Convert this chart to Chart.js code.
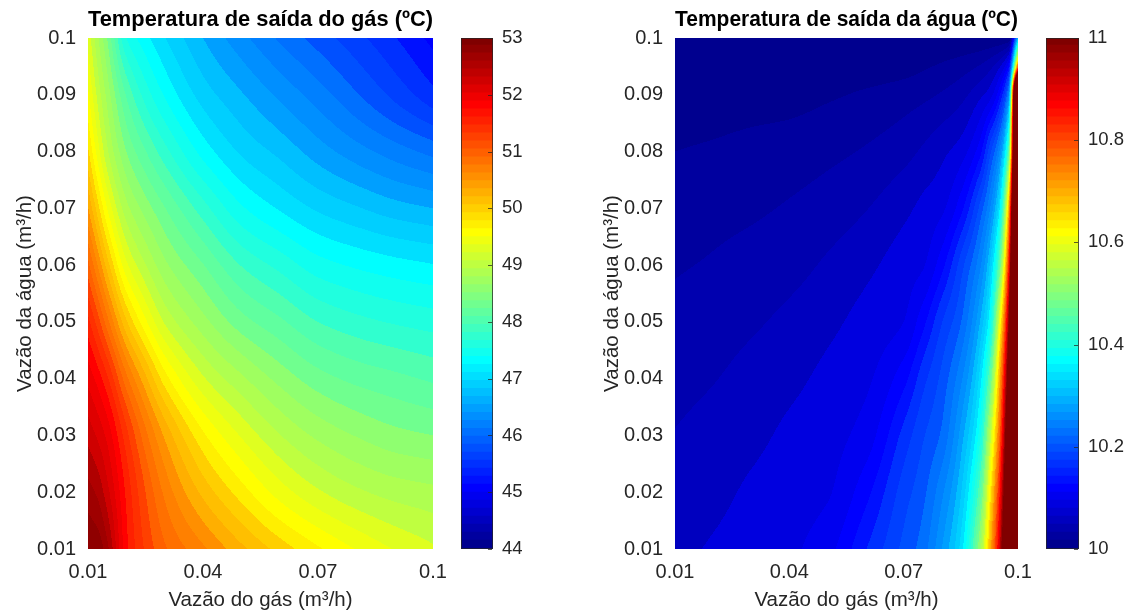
<!DOCTYPE html>
<html><head><meta charset="utf-8">
<script src="https://cdn.jsdelivr.net/npm/chart.js@4.4.0/dist/chart.umd.min.js"></script>
<style>
html,body{margin:0;padding:0;background:#fff;}
#wrap{position:relative;width:1126px;height:615px;overflow:hidden;background:#fff;}
canvas{position:absolute;top:0;}
</style></head><body>
<div id="wrap">
<canvas id="gasPlot" width="455" height="615" style="left:0px"></canvas>
<canvas id="gasBar" width="70" height="615" style="left:461px"></canvas>
<canvas id="waterPlot" width="453" height="615" style="left:587px"></canvas>
<canvas id="waterBar" width="80" height="615" style="left:1046px"></canvas>
</div>
<script>
// ---------- data ----------
// Left panel: gas outlet temperature (ºC); rows = water flow, columns = gas flow
const gasPanelGasFlow = [0.01, 0.0125, 0.015, 0.02, 0.025, 0.03, 0.04, 0.05, 0.06, 0.07, 0.08, 0.09, 0.1];
const gasPanelWaterFlow = [0.01, 0.02, 0.03, 0.04, 0.05, 0.06, 0.07, 0.08, 0.09, 0.1];
const gasOutletTemp = [
  [53.0, 52.95, 52.7, 51.8, 51.35, 51.05, 50.7, 50.35, 50.05, 49.79, 49.57, 49.39, 49.25],
  [52.72, 52.6, 52.35, 51.7, 51.2, 50.8, 50.25, 49.85, 49.5, 49.25, 49.08, 48.97, 48.91],
  [52.4, 52.25, 52.05, 51.45, 50.9, 50.45, 49.8, 49.38, 49.05, 48.82, 48.67, 48.56, 48.5],
  [52.05, 51.85, 51.6, 50.9, 50.35, 49.85, 49.25, 48.9, 48.62, 48.4, 48.27, 48.19, 48.11],
  [51.62, 51.3, 50.92, 50.15, 49.62, 49.2, 48.75, 48.4, 48.18, 47.96, 47.84, 47.76, 47.7],
  [51.08, 50.66, 50.22, 49.45, 49.05, 48.73, 48.33, 47.95, 47.72, 47.5, 47.39, 47.31, 47.25],
  [50.5, 50.03, 49.58, 48.93, 48.6, 48.33, 47.86, 47.45, 47.22, 47.03, 46.9, 46.78, 46.7],
  [49.98, 49.5, 49.08, 48.5, 48.15, 47.85, 47.35, 47.03, 46.83, 46.61, 46.42, 46.25, 46.1],
  [49.62, 49.17, 48.8, 48.12, 47.7, 47.4, 46.98, 46.72, 46.48, 46.25, 46.0, 45.75, 45.5],
  [49.35, 48.9, 48.5, 47.6, 47.3, 47.07, 46.7, 46.4, 46.13, 45.9, 45.68, 45.45, 45.2]
];

// Right panel: water outlet temperature (ºC); rows = water flow, columns = gas flow
const waterPanelGasFlow = [0.01, 0.02, 0.03, 0.04, 0.05, 0.06, 0.07, 0.075, 0.08, 0.085, 0.09, 0.0925, 0.095, 0.0975, 0.1];
const waterPanelWaterFlow = [0.01, 0.02, 0.03, 0.04, 0.05, 0.06, 0.07, 0.08, 0.09, 0.095, 0.1];
const waterOutletTemp = [
  [10.075, 10.082, 10.088, 10.096, 10.113, 10.159, 10.206, 10.23, 10.28, 10.348, 10.525, 10.689, 10.905, 11.305, 12.0],
  [10.069, 10.075, 10.083, 10.09, 10.098, 10.133, 10.19, 10.214, 10.255, 10.318, 10.459, 10.627, 10.838, 11.231, 12.0],
  [10.061, 10.068, 10.075, 10.084, 10.092, 10.109, 10.167, 10.197, 10.224, 10.288, 10.393, 10.548, 10.763, 11.165, 12.0],
  [10.053, 10.059, 10.067, 10.075, 10.085, 10.096, 10.133, 10.172, 10.206, 10.255, 10.348, 10.459, 10.689, 11.079, 12.0],
  [10.046, 10.051, 10.057, 10.065, 10.075, 10.087, 10.10, 10.133, 10.179, 10.219, 10.30, 10.372, 10.589, 10.975, 12.0],
  [10.038, 10.042, 10.047, 10.053, 10.063, 10.075, 10.09, 10.098, 10.133, 10.19, 10.255, 10.318, 10.459, 10.838, 12.0],
  [10.03, 10.034, 10.037, 10.042, 10.049, 10.059, 10.075, 10.085, 10.096, 10.133, 10.206, 10.255, 10.348, 10.689, 12.0],
  [10.02, 10.023, 10.027, 10.03, 10.035, 10.042, 10.053, 10.063, 10.075, 10.09, 10.133, 10.19, 10.255, 10.459, 12.0],
  [10.006, 10.008, 10.01, 10.012, 10.017, 10.023, 10.03, 10.035, 10.042, 10.053, 10.075, 10.09, 10.133, 10.255, 12.0],
  [10.003, 10.003, 10.004, 10.004, 10.005, 10.008, 10.012, 10.017, 10.023, 10.03, 10.042, 10.053, 10.075, 10.133, 10.8],
  [10.0, 10.0, 10.0, 10.0, 10.0, 10.0, 10.0, 10.0, 10.0, 10.0, 10.0, 10.0, 10.0, 10.0, 10.3]
];

const xTickValues = [0.01, 0.04, 0.07, 0.1];
const xTickLabels = ['0.01', '0.04', '0.07', '0.1'];
const yTickValues = [0.01, 0.02, 0.03, 0.04, 0.05, 0.06, 0.07, 0.08, 0.09, 0.1];
const yTickLabels = ['0.01', '0.02', '0.03', '0.04', '0.05', '0.06', '0.07', '0.08', '0.09', '0.1'];
const gasBarTicks = [44, 45, 46, 47, 48, 49, 50, 51, 52, 53];
const gasBarLabels = ['44', '45', '46', '47', '48', '49', '50', '51', '52', '53'];
const waterBarTicks = [10, 10.2, 10.4, 10.6, 10.8, 11];
const waterBarLabels = ['10', '10.2', '10.4', '10.6', '10.8', '11'];

// ---------- styling ----------
const FONT = "'Liberation Sans', Arial, Helvetica, sans-serif";
const TXT = '#262626';

function jetMap(m) {
  const n = Math.ceil(m / 4);
  const u = [];
  for (let i = 1; i <= n; i++) u.push(i / n);
  for (let i = 1; i < n; i++) u.push(1);
  for (let i = n; i >= 1; i--) u.push(i / n);
  const off = Math.ceil(n / 2) - (m % 4 === 1 ? 1 : 0);
  const J = Array.from({length: m}, () => [0, 0, 0]);
  for (let k = 0; k < u.length; k++) {
    const g = off + k + 1, r = g + n, b = g - n;
    if (r >= 1 && r <= m) J[r - 1][0] = u[k];
    if (g >= 1 && g <= m) J[g - 1][1] = u[k];
    if (b >= 1 && b <= m) J[b - 1][2] = u[k];
  }
  return J.map(c => c.map(v => Math.round(v * 255)));
}
const JET = jetMap(64);

function clamp(v, a, b) { return v < a ? a : (v > b ? b : v); }
function findIdx(arr, v) { let i = 0; while (i < arr.length - 2 && v > arr[i + 1]) i++; return i; }
// monotone cubic (Fritsch-Carlson) slopes, used only to shade between grid nodes
function pchipSlopes(xs, ys) {
  const n = xs.length, h = [], d = [], m = new Array(n);
  for (let i = 0; i < n - 1; i++) { h[i] = xs[i + 1] - xs[i]; d[i] = (ys[i + 1] - ys[i]) / h[i]; }
  m[0] = d[0]; m[n - 1] = d[n - 2];
  for (let i = 1; i < n - 1; i++) {
    if (d[i - 1] * d[i] <= 0) m[i] = 0;
    else { const w1 = 2 * h[i] + h[i - 1], w2 = h[i] + 2 * h[i - 1]; m[i] = (w1 + w2) / (w1 / d[i - 1] + w2 / d[i]); }
  }
  return m;
}
function pchipEval(xs, ys, m, x) {
  const i = findIdx(xs, x), h = xs[i + 1] - xs[i];
  const t = clamp((x - xs[i]) / h, 0, 1), t2 = t * t, t3 = t2 * t;
  return (2 * t3 - 3 * t2 + 1) * ys[i] + (t3 - 2 * t2 + t) * h * m[i] + (-2 * t3 + 3 * t2) * ys[i + 1] + (t3 - t2) * h * m[i + 1];
}

function contourPlugin(name, xs, ys, Z, cmin, cmax, step) {
  return {
    id: 'contour_' + name,
    beforeDatasetsDraw(chart) {
      const ctx = chart.ctx, a = chart.chartArea;
      const sx = chart.scales.x, sy = chart.scales.y;
      const L = Math.round(a.left), T = Math.round(a.top);
      const W = Math.round(a.right) - L, H = Math.round(a.bottom) - T;
      const img = ctx.createImageData(W, H);
      const d = img.data;
      const rowSlopes = Z.map(row => pchipSlopes(xs, row));
      const yv = [];
      for (let py = 0; py < H; py++) yv.push(sy.getValueForPixel(T + py + 0.5));
      for (let px = 0; px < W; px++) {
        const xv = sx.getValueForPixel(L + px + 0.5);
        const col = Z.map((row, j) => pchipEval(xs, row, rowSlopes[j], xv));
        const cs = pchipSlopes(ys, col);
        for (let py = 0; py < H; py++) {
          const v = pchipEval(ys, col, cs, yv[py]);
          const lvl = cmin + Math.floor((v - cmin) / step + 1e-9) * step;
          const idx = clamp(Math.floor((lvl - cmin) / (cmax - cmin) * 64 + 1e-9), 0, 63);
          const c = JET[idx];
          const o = (py * W + px) * 4;
          d[o] = c[0]; d[o + 1] = c[1]; d[o + 2] = c[2]; d[o + 3] = 255;
        }
      }
      ctx.putImageData(img, L, T);
    }
  };
}

function makePanel(id, title, xs, ys, Z, cmin, cmax, step, padRight) {
  new Chart(document.getElementById(id), {
    type: 'scatter',
    data: {datasets: [{data: [], pointRadius: 0}]},
    options: {
      responsive: false, animation: false, events: [], devicePixelRatio: 1,
      layout: {padding: {left: 0, right: padRight, top: 0, bottom: 0}},
      plugins: {
        legend: {display: false}, tooltip: {enabled: false},
        title: {display: true, text: title, fullSize: false, color: '#000',
          font: {family: FONT, size: 22, weight: 'bold'}, padding: {top: 6.8, bottom: 4.8}}
      },
      scales: {
        x: {
          type: 'linear', min: 0.01, max: 0.1,
          afterBuildTicks: ax => { ax.ticks = xTickValues.map(v => ({value: v})); },
          afterFit: ax => { ax.height = 66; ax.paddingLeft = 0; ax.paddingRight = 0; },
          grid: {display: false, drawTicks: false}, border: {display: false},
          ticks: {padding: 11, color: TXT, font: {family: FONT, size: 20}, maxRotation: 0, autoSkip: false,
            callback: (v, i) => xTickLabels[i]},
          title: {display: true, text: 'Vazão do gás (m³/h)', color: TXT,
            font: {family: FONT, size: 20.5}, padding: {top: 0, bottom: 2.7}}
        },
        y: {
          type: 'linear', min: 0.01, max: 0.1,
          afterBuildTicks: ax => { ax.ticks = yTickValues.map(v => ({value: v})); },
          afterFit: ax => { ax.width = 88; ax.paddingTop = 0; ax.paddingBottom = 0; },
          grid: {display: false, drawTicks: false}, border: {display: false},
          ticks: {padding: 12, color: TXT, font: {family: FONT, size: 20}, autoSkip: false,
            callback: (v, i) => yTickLabels[i]},
          title: {display: true, text: 'Vazão da água (m³/h)', color: TXT,
            font: {family: FONT, size: 20.5}, padding: {top: 12.7, bottom: 0}}
        }
      }
    },
    plugins: [contourPlugin(id, xs, ys, Z, cmin, cmax, step)]
  });
}

const cbFrame = {
  id: 'cbFrame',
  afterDatasetsDraw(chart) {
    const ctx = chart.ctx, a = chart.chartArea, sy = chart.scales.y;
    ctx.save();
    ctx.strokeStyle = 'rgba(38,38,38,0.75)';
    ctx.lineWidth = 1;
    ctx.strokeRect(Math.round(a.left) + 0.5, Math.round(a.top) + 0.5,
      Math.round(a.right - a.left) - 1, Math.round(a.bottom - a.top) - 1);
    ctx.beginPath();
    sy.ticks.forEach(t => {
      const y = Math.round(sy.getPixelForValue(t.value)) + 0.5;
      ctx.moveTo(Math.round(a.right) - 1, y);
      ctx.lineTo(Math.round(a.right) - 5, y);
    });
    ctx.stroke();
    ctx.restore();
  }
};

function makeBar(id, cmin, cmax, ticks, labels, axisWidth) {
  const eps = (cmax - cmin) * 0.002;
  const datasets = JET.map((c, i) => ({
    data: [[cmin + (cmax - cmin) * i / 64, Math.min(cmax, cmin + (cmax - cmin) * (i + 1) / 64 + eps)]],
    backgroundColor: 'rgb(' + c.join(',') + ')',
    borderWidth: 0, barPercentage: 1, categoryPercentage: 1, grouped: false
  }));
  new Chart(document.getElementById(id), {
    type: 'bar',
    data: {labels: [''], datasets},
    options: {
      responsive: false, animation: false, events: [], devicePixelRatio: 1,
      layout: {padding: {left: 0, right: 0, top: 38, bottom: 66}},
      plugins: {legend: {display: false}, tooltip: {enabled: false}},
      scales: {
        x: {display: false},
        y: {
          position: 'right', min: cmin, max: cmax,
          afterBuildTicks: ax => { ax.ticks = ticks.map(v => ({value: v})); },
          afterFit: ax => { ax.width = axisWidth; ax.paddingTop = 0; ax.paddingBottom = 0; },
          grid: {display: false, drawTicks: false}, border: {display: false},
          ticks: {padding: 9, color: TXT, font: {family: FONT, size: 18.5}, autoSkip: false,
            callback: (v, i) => labels[i]}
        }
      }
    },
    plugins: [cbFrame]
  });
}

makePanel('gasPlot', 'Temperatura de saída do gás (ºC)', gasPanelGasFlow, gasPanelWaterFlow, gasOutletTemp, 44, 53, 0.18, 22);
makeBar('gasBar', 44, 53, gasBarTicks, gasBarLabels, 38);
makePanel('waterPlot', 'Temperatura de saída da água (ºC)', waterPanelGasFlow, waterPanelWaterFlow, waterOutletTemp, 10, 11, 0.02, 22);
makeBar('waterBar', 10, 11, waterBarTicks, waterBarLabels, 47);
</script>
</body></html>
